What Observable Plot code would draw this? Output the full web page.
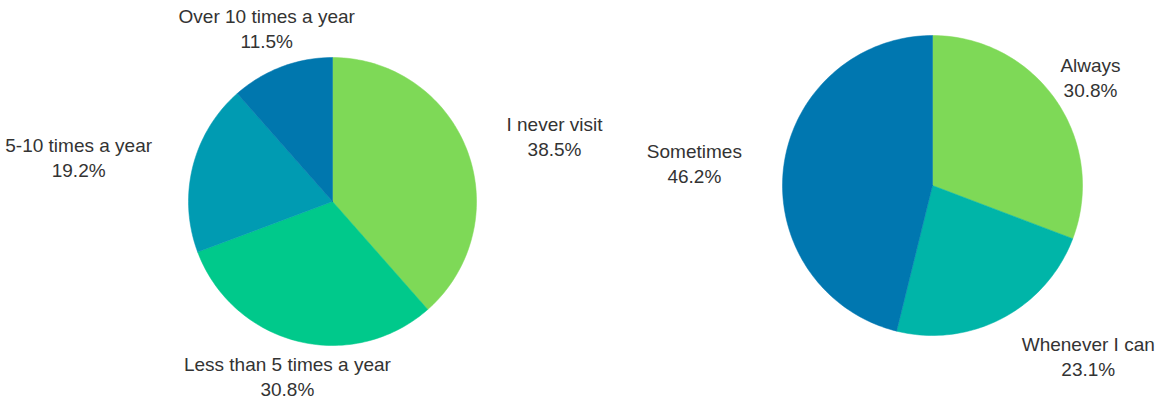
<!DOCTYPE html>
<html>
<head>
<meta charset="utf-8">
<script src="https://cdn.jsdelivr.net/npm/d3@7"></script>
<script src="https://cdn.jsdelivr.net/npm/@observablehq/plot@0.6"></script>
<style>
  html, body { margin: 0; padding: 0; background: #ffffff; }
  #chart svg { display: block; overflow: hidden; }
</style>
</head>
<body>
<div id="chart"></div>
<script>
// ---- Data ----
const visitCategories = ["I never visit", "Less than 5 times a year", "5-10 times a year", "Over 10 times a year"];
const visitPercents = [38.5, 30.8, 19.2, 11.5];
const supportCategories = ["Always", "Whenever I can", "Sometimes"];
const supportPercents = [30.8, 23.1, 46.2];

// ---- Styles ----
const visitColors = ["#7ED957", "#00C98B", "#009BB2", "#0077AE"];
const supportColors = ["#7ED957", "#00B5A8", "#0077B0"];

// ---- Layout ----
const W = 1161, H = 401;
const FONT_SIZE = 19, LINE_HEIGHT = 1.3, FONT = "Liberation Sans, Arial, sans-serif";
const LABEL_GAP = 42;
const pies = [
  {id: "visit", cx: 332, cy: 201, r: 144, cats: visitCategories, vals: visitPercents, cols: visitColors},
  {id: "support", cx: 932, cy: 185, r: 150, cats: supportCategories, vals: supportPercents, cols: supportColors}
];

const ctx = document.createElement("canvas").getContext("2d");
ctx.font = `${FONT_SIZE}px "Liberation Sans"`;

const slicePoints = [];
const labels = [];
for (const p of pies) {
  const arcs = d3.pie().sort(null).value(d => d)(p.vals);
  arcs.forEach((a, i) => {
    const key = p.id + "-" + i;
    const steps = Math.max(4, Math.ceil((a.endAngle - a.startAngle) / (Math.PI * 2) * 240));
    slicePoints.push({key, color: p.cols[i], x: p.cx, y: p.cy});
    for (let k = 0; k <= steps; k++) {
      const t = a.startAngle + (a.endAngle - a.startAngle) * k / steps;
      slicePoints.push({key, color: p.cols[i], x: p.cx + p.r * Math.sin(t), y: p.cy - p.r * Math.cos(t)});
    }
    slicePoints.push({key, color: p.cols[i], x: p.cx, y: p.cy});

    // label placement
    const mid = (a.startAngle + a.endAngle) / 2;
    const dx = Math.sin(mid), dy = -Math.cos(mid);
    const R = p.r + LABEL_GAP;
    const ax = p.cx + dx * R, ay = p.cy + dy * R;
    const pct = p.vals[i].toFixed(1) + "%";
    const w = Math.max(ctx.measureText(p.cats[i]).width, ctx.measureText(pct).width);
    const h = 2 * FONT_SIZE * LINE_HEIGHT;
    const side = Math.abs(dx) > 0.9 || (dy > 0.3 && Math.abs(dx) > 0.3);
    let x = side ? ax + Math.sign(dx) * w / 2 : ax;
    let y = Math.min(Math.max(ay, h / 2 + 1), H - h / 2 - 1);
    labels.push({x, y, text: p.cats[i] + "\n" + pct});
  });
}

const chart = Plot.plot({
  width: W,
  height: H,
  margin: 0,
  x: {domain: [0, W], range: [0, W], axis: null},
  y: {domain: [0, H], range: [0, H], axis: null},
  color: {type: "identity"},
  style: {background: "#ffffff", fontFamily: FONT},
  marks: [
    Plot.line(slicePoints, {x: "x", y: "y", z: "key", fill: "color", stroke: "color", strokeWidth: 0.5, curve: "linear"}),
    Plot.text(labels, {
      x: "x", y: "y", text: "text",
      fontSize: FONT_SIZE, lineHeight: LINE_HEIGHT,
      textAnchor: "middle", lineAnchor: "middle",
      fill: "#333333", fontFamily: FONT
    })
  ]
});
document.getElementById("chart").appendChild(chart);
</script>
</body>
</html>
